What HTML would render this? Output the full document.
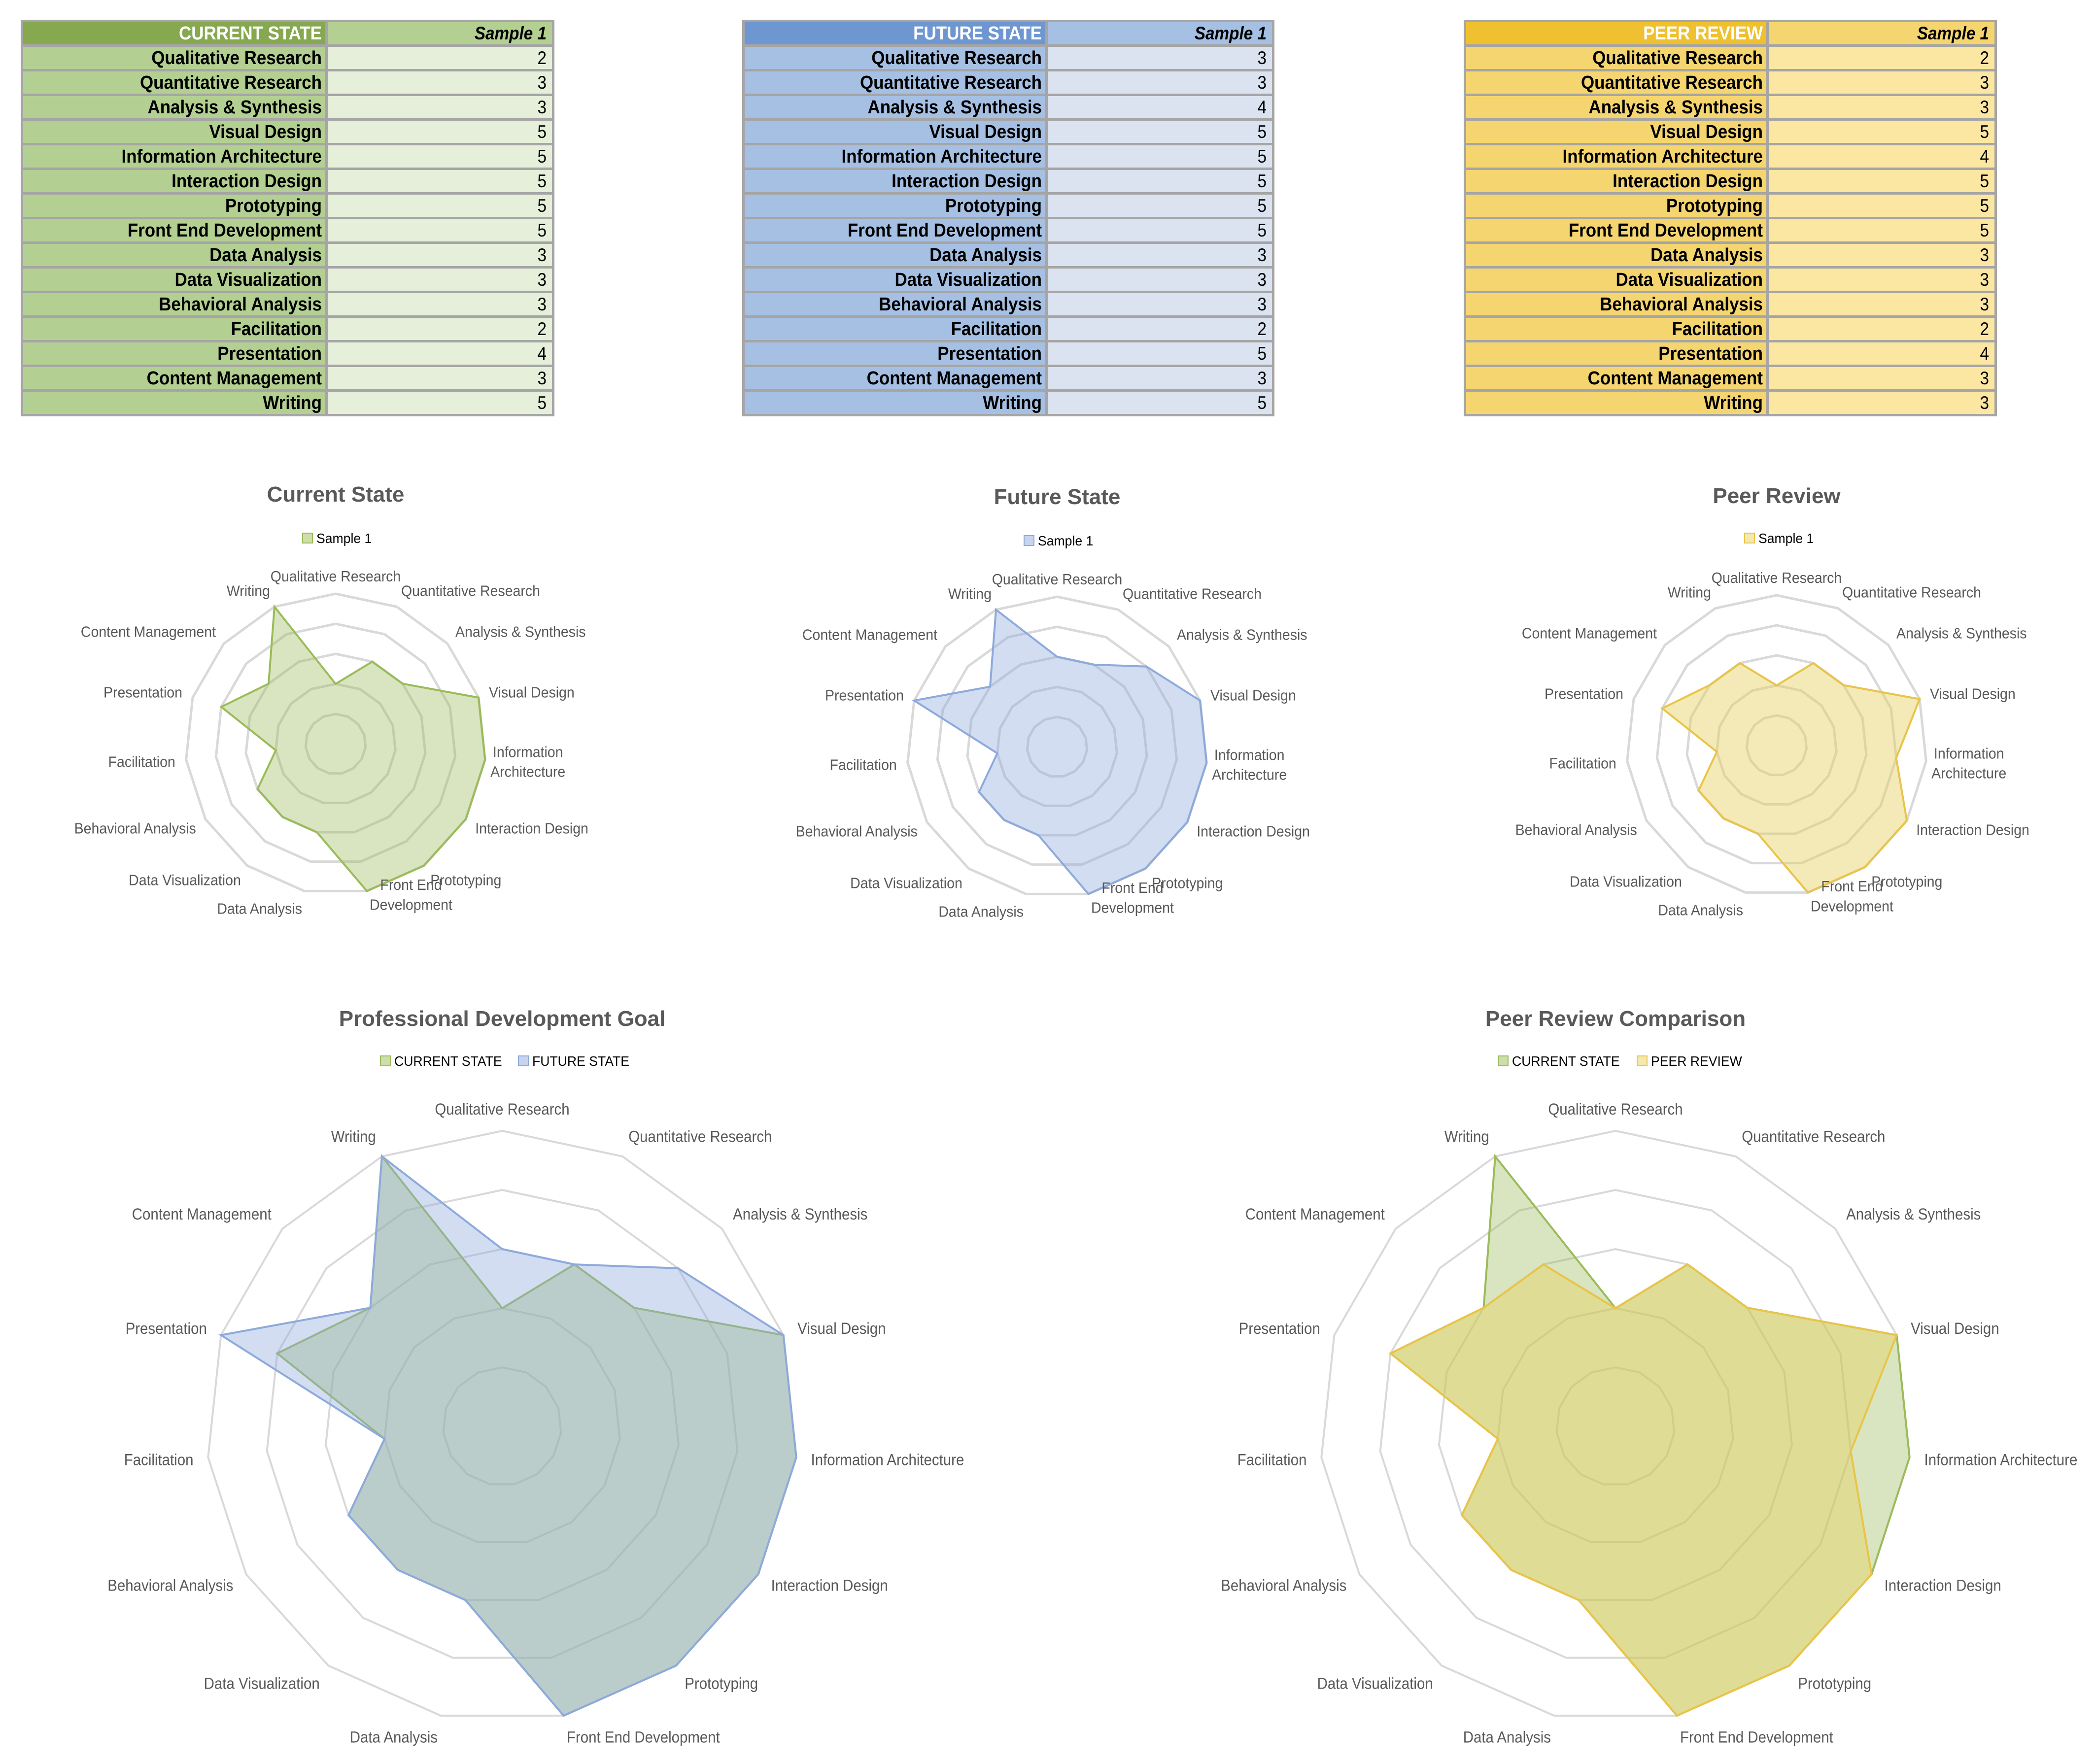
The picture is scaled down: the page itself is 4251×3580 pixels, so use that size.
<!DOCTYPE html>
<html><head><meta charset="utf-8"><style>
html,body{margin:0;padding:0;background:#fff;}
svg{display:block;}
</style></head><body>
<svg id="root" xmlns="http://www.w3.org/2000/svg" width="4251" height="3580" viewBox="0 0 4251 3580" font-family="'Liberation Sans', sans-serif"></svg>
<script>
const categories = ["Qualitative Research","Quantitative Research","Analysis & Synthesis","Visual Design","Information Architecture","Interaction Design","Prototyping","Front End Development","Data Analysis","Data Visualization","Behavioral Analysis","Facilitation","Presentation","Content Management","Writing"];
const currentValues = [2,3,3,5,5,5,5,5,3,3,3,2,4,3,5];
const futureValues = [3,3,4,5,5,5,5,5,3,3,3,2,5,3,5];
const peerValues = [2,3,3,5,4,5,5,5,3,3,3,2,4,3,3];
const ringTicks = [1,2,3,4,5];
const maxValue = 5;

const NS = "http://www.w3.org/2000/svg";
const root = document.getElementById('root');
function mk(tag, attrs, parent){
  const e = document.createElementNS(NS, tag);
  for (const k in attrs) e.setAttribute(k, attrs[k]);
  (parent||root).appendChild(e);
  return e;
}

const GREEN = {fill:'rgb(155,187,89)', a:0.38, stroke:'#9bbb59'};
const BLUE = {fill:'rgb(142,169,219)', a:0.4, stroke:'#8eaadb'};
const GOLD = {fill:'rgb(230,209,98)', a:0.45, stroke:'#e8c449'};

// ---------- tables ----------
function drawTable(name, x0, xd, x2, title, values, c){
  const g = mk('g', {});
  
  
  mk('rect', {x:x0, y:40, width:x2-x0, height:805, fill:'#a5a5a5'}, g);
  const rows = [[title, 'Sample 1']].concat(categories.map((k,i)=>[k, String(values[i])]));
  rows.forEach((r, i) => {
    const y = 40 + i*50;
    mk('rect', {x:x0+5, y:y+5, width:xd-x0-7, height:45, fill: i===0? c.head : c.label}, g);
    mk('rect', {x:xd+3, y:y+5, width:x2-xd-8, height:45, fill: i===0? c.label : c.val}, g);
    const tg = mk('g', {transform:`translate(${xd-9},${y+40}) scale(0.92,1)`}, g);
    const t = mk('text', {x:0, y:0, 'text-anchor':'end', 'font-size':38, 'font-weight':'bold', fill: i===0? '#fff':'#000'}, tg);
    t.textContent = r[0];
    
    
    const vg = mk('g', {transform:`translate(${x2-16},${y+40}) scale(0.9,1)`}, g);
    const v = mk('text', {x:0, y:0, 'text-anchor':'end', 'font-size':37, 'font-weight': i===0?'bold':'normal', 'font-style': i===0?'italic':'normal', fill:'#000'}, vg);
    v.textContent = r[1];
    
    
  });
}
drawTable('current-state-table', 42, 662, 1125, 'CURRENT STATE', currentValues, {head:'#86a84f', label:'#b3cf91', val:'#e5efd9'});
drawTable('future-state-table', 1506, 2123, 2586, 'FUTURE STATE', futureValues, {head:'#6e97d1', label:'#a6c0e3', val:'#dae3ef'});
drawTable('peer-review-table', 2970, 3586, 4052, 'PEER REVIEW', peerValues, {head:'#efc030', label:'#f5d56f', val:'#fbe6a2'});

// ---------- radar charts ----------
function ang(i){ return i*2*Math.PI/categories.length; }
function pt(cx, cy, r, i, v){ const rr = r*v/maxValue; return [cx + rr*Math.sin(ang(i)), cy - rr*Math.cos(ang(i))]; }

function drawRadar(opt){
  const g = mk('g', {});
  
  
  const {cx, cy, r} = opt;
  const tg = mk('g', {transform:`translate(${cx},${opt.titleY}) scale(1,1)`}, g);
  const t = mk('text', {x:0, y:0, 'text-anchor':'middle', 'font-size':44, 'font-weight':'bold', fill:'#595959'}, tg);
  t.textContent = opt.title;
  
  
  opt.legend.forEach(L => {
    const lg = mk('g', {}, g);
    
    
    mk('rect', {x:L.x, y:opt.legendY-10, width:20, height:20, fill:L.c.fill, 'fill-opacity':0.5, stroke:L.c.stroke, 'stroke-width':2}, lg);
    const tt = mk('g', {transform:`translate(${L.x+28},${opt.legendY+10}) scale(0.95,1)`}, lg);
    const lt = mk('text', {x:0, y:0, 'font-size':28, fill:'#000'}, tt);
    lt.textContent = L.label;
  });
  ringTicks.forEach(v => {
    const pts = categories.map((_, i) => pt(cx, cy, r, i, v).join(',')).join(' ');
    const ring = mk('polygon', {points:pts, fill:'none', stroke:'#d9d9d9', 'stroke-width':opt.gridW}, g);
    
    
  });
  opt.series.forEach(s => {
    const pts = s.values.map((v, i) => pt(cx, cy, r, i, v).join(',')).join(' ');
    const p = mk('polygon', {points:pts, fill:s.c.fill, 'fill-opacity':s.c.a, stroke:s.c.stroke, 'stroke-width':4, 'stroke-linejoin':'miter'}, g);
    
    
  });
  categories.forEach((k, i) => {
    const a = ang(i), s = Math.sin(a), c = Math.cos(a);
    const lr = r + opt.labOff;
    let x = cx + lr*s, y = cy - lr*c;
    let anchor = s > 0.15 ? 'start' : (s < -0.15 ? 'end' : 'middle');
    let lines = [k];
    if (opt.wrap && (k === 'Information Architecture' || k === 'Front End Development')) {
      lines = k === 'Information Architecture' ? ['Information','Architecture'] : ['Front End','Development'];
      anchor = 'middle';
      if (k === 'Information Architecture') x += 65; else { x += 85; y -= 28; }
    }
    const fs = opt.labFs, lh = fs*1.3;
    const y0 = y + fs*0.35 - c*fs*0.45 - (lines.length-1)*lh/2;
    const lg = mk('g', {transform:`translate(${x},${y0}) scale(0.92,1)`}, g);
    const t = mk('text', {x:0, y:0, 'text-anchor':anchor, 'font-size':fs, fill:'#595959'}, lg);
    
    
    lines.forEach((ln, j) => {
      const ts = mk('tspan', {x:0, y:j*lh}, t);
      ts.textContent = ln;
    });
  });
}

drawRadar({name:'current-state-radar', cx:681, cy:1510, r:305, titleY:1018, title:'Current State', legendY:1092,
  legend:[{x:614, label:'Sample 1', c:GREEN}], gridW:5, labOff:22, labFs:31, wrap:true,
  series:[{name:'current-series', values:currentValues, c:GREEN}]});
drawRadar({name:'future-state-radar', cx:2145, cy:1516, r:305, titleY:1023, title:'Future State', legendY:1097,
  legend:[{x:2078, label:'Sample 1', c:BLUE}], gridW:5, labOff:22, labFs:31, wrap:true,
  series:[{name:'future-series', values:futureValues, c:BLUE}]});
drawRadar({name:'peer-review-radar', cx:3605, cy:1513, r:305, titleY:1021, title:'Peer Review', legendY:1092,
  legend:[{x:3540, label:'Sample 1', c:GOLD}], gridW:5, labOff:22, labFs:31, wrap:true,
  series:[{name:'peer-series', values:peerValues, c:GOLD}]});
drawRadar({name:'professional-development-radar', cx:1019, cy:2895, r:600, titleY:2082, title:'Professional Development Goal', legendY:2153,
  legend:[{x:772, label:'CURRENT STATE', c:GREEN},{x:1052, label:'FUTURE STATE', c:BLUE}], gridW:4, labOff:30, labFs:32, wrap:false,
  series:[{name:'current-series', values:currentValues, c:GREEN},{name:'future-series', values:futureValues, c:BLUE}]});
drawRadar({name:'peer-comparison-radar', cx:3278, cy:2895, r:600, titleY:2082, title:'Peer Review Comparison', legendY:2153,
  legend:[{x:3040, label:'CURRENT STATE', c:GREEN},{x:3322, label:'PEER REVIEW', c:GOLD}], gridW:4, labOff:30, labFs:32, wrap:false,
  series:[{name:'current-series', values:currentValues, c:GREEN},{name:'peer-series', values:peerValues, c:GOLD}]});
</script>
</body></html>
